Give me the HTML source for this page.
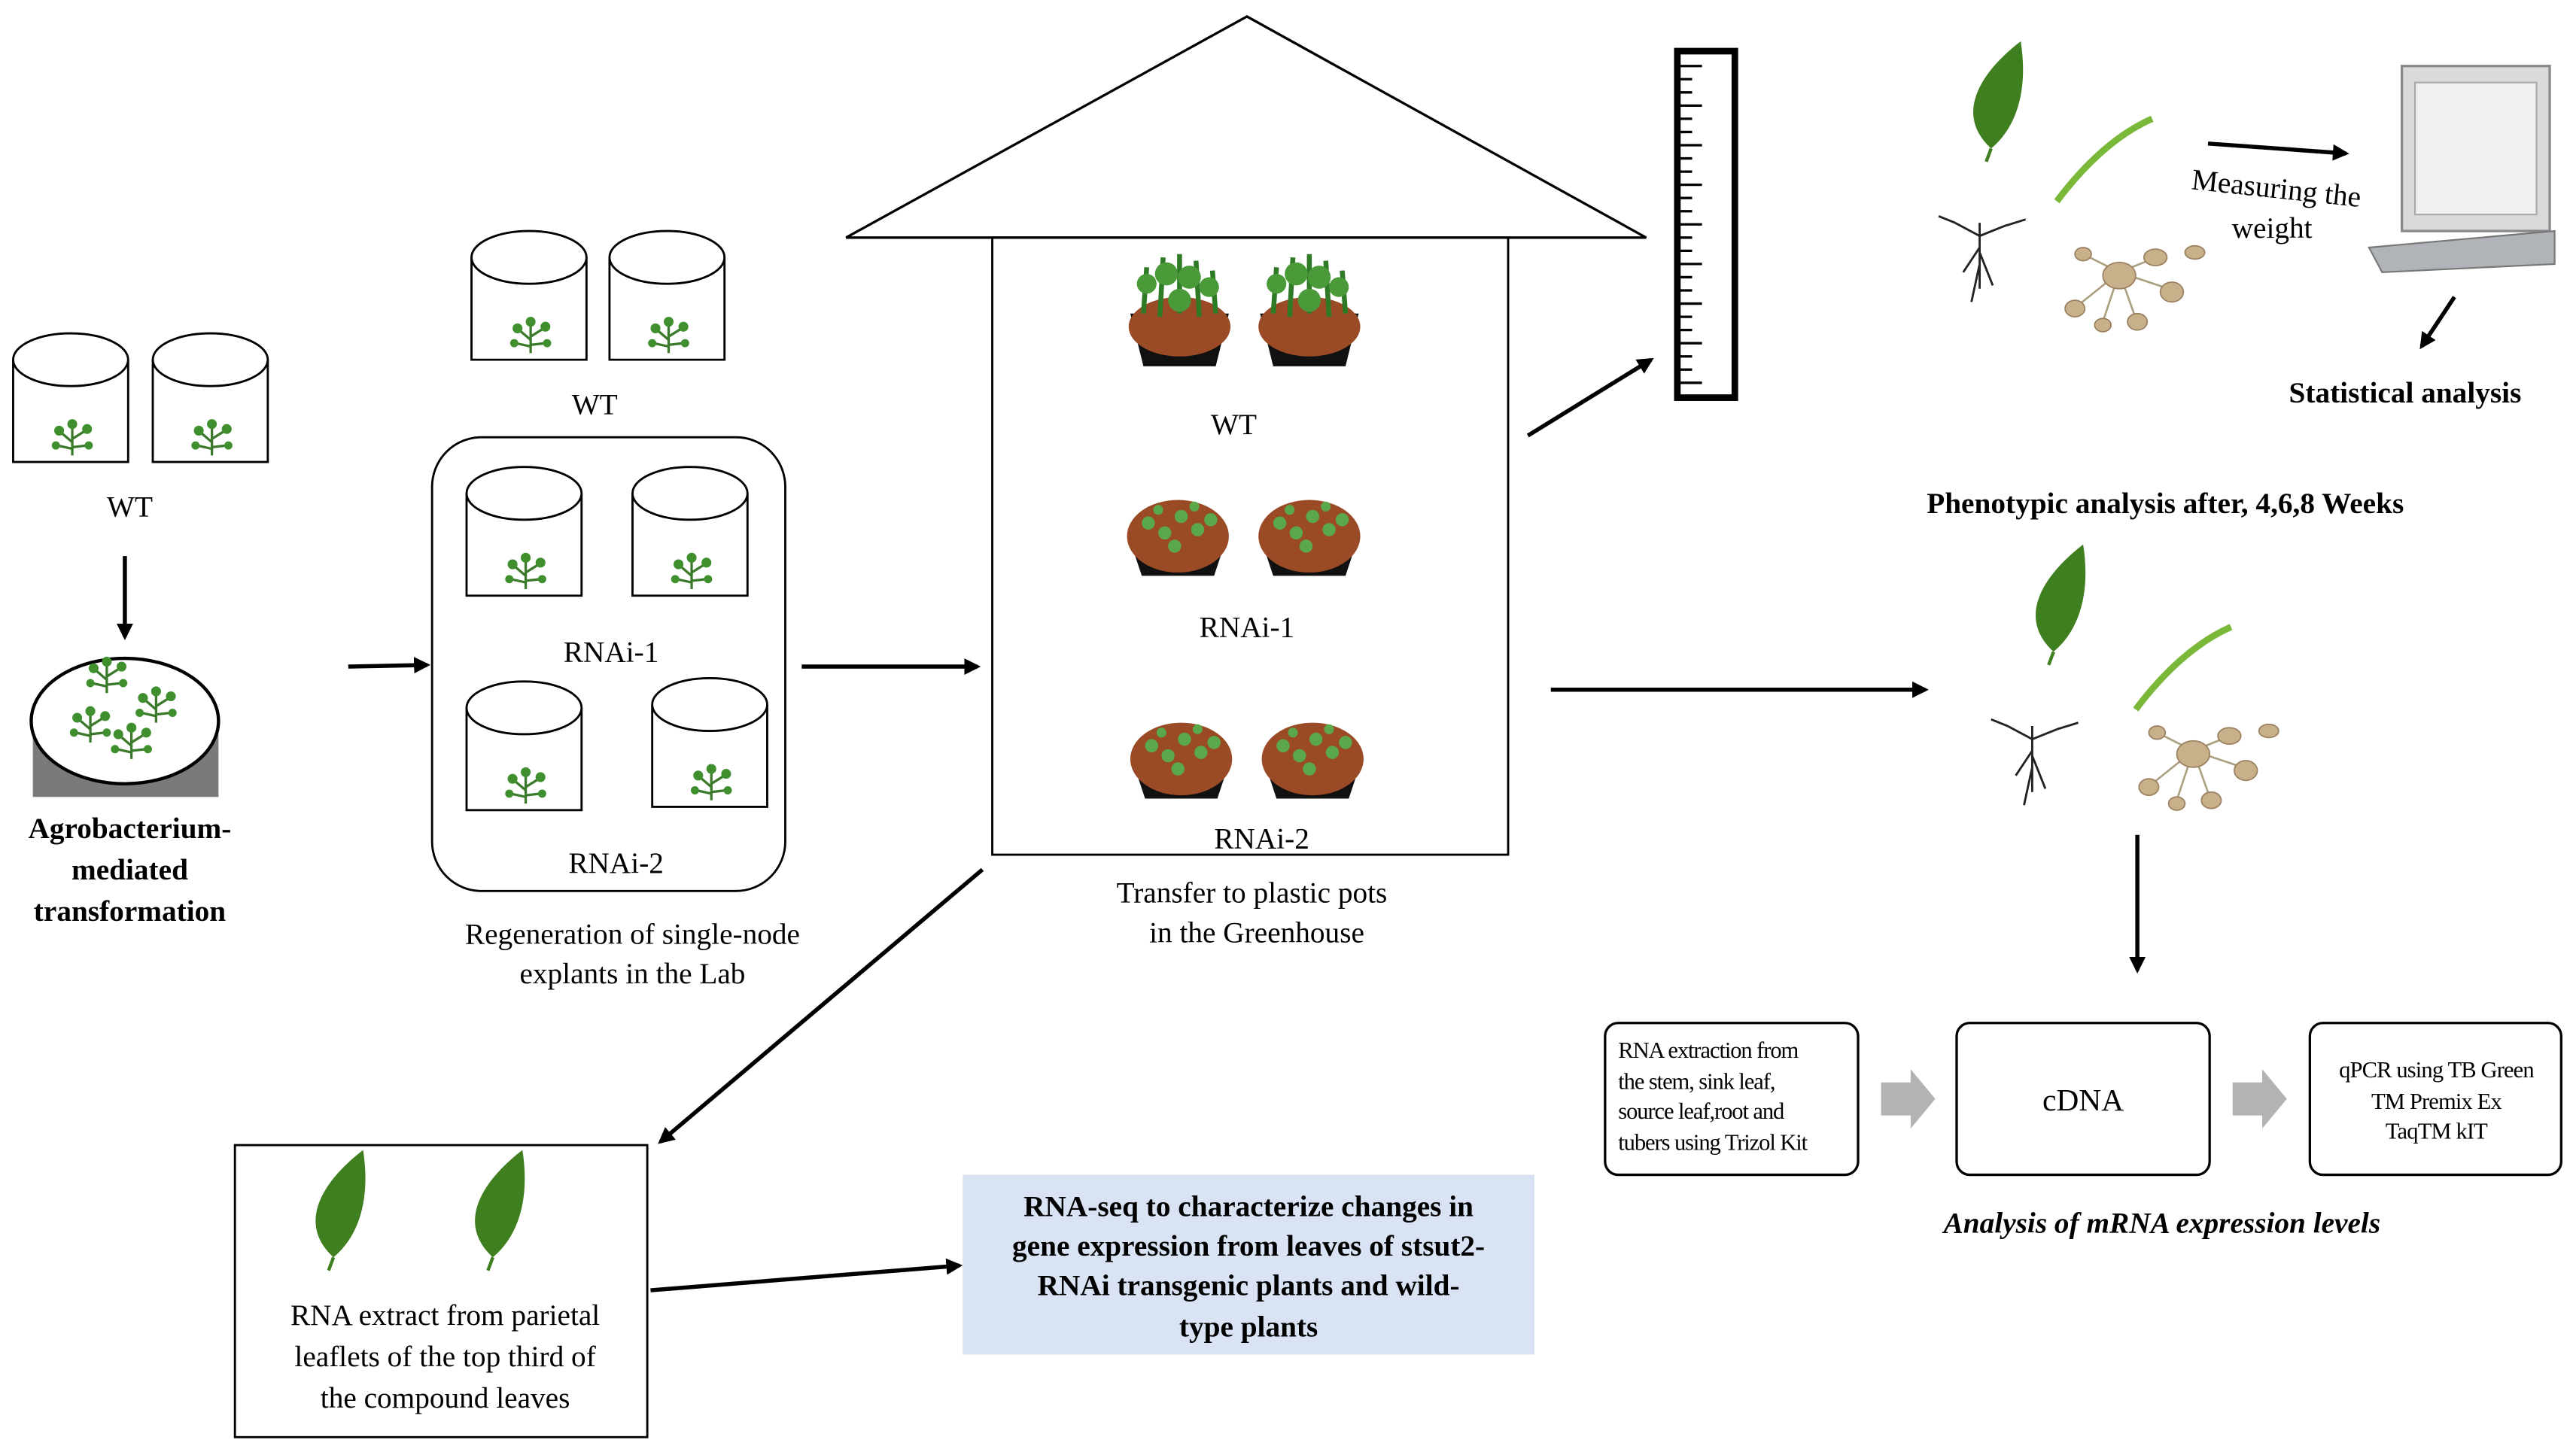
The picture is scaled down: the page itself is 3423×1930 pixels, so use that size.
<!DOCTYPE html>
<html><head><meta charset="utf-8"><style>
html,body{margin:0;padding:0;background:#fff;}
svg{display:block;}
svg text{font-family:"Liberation Serif","Times New Roman",serif !important;fill:#000;}
</style></head><body>
<svg width="3423" height="1930" viewBox="0 0 1568 880" preserveAspectRatio="none" xmlns="http://www.w3.org/2000/svg" font-family="Liberation Serif, Times New Roman, serif">
<defs>
<marker id="ah" markerWidth="10" markerHeight="10" refX="8" refY="5" orient="auto" markerUnits="userSpaceOnUse">
<path d="M0,0 L10,5 L0,10 z" fill="#000"/></marker>
<g id="plant">
<path d="M0,0 L0,-18 M0,-8 L-7,-14 M0,-10 L8,-15 M0,-4 L-9,-6 M0,-5 L9,-6" stroke="#3a7a2a" stroke-width="1.5" fill="none"/>
<circle cx="0" cy="-19" r="3" fill="#3f8f2f"/><circle cx="-8" cy="-15" r="3" fill="#3f8f2f"/><circle cx="9" cy="-16" r="3" fill="#3f8f2f"/>
<circle cx="-10" cy="-6" r="2.5" fill="#3f8f2f"/><circle cx="10" cy="-6" r="2.5" fill="#3f8f2f"/>
</g>
<g id="cup">
<path d="M0,16 L0,78 L70,78 L70,16" fill="#fff" stroke="#000" stroke-width="1.3"/>
<ellipse cx="35" cy="16" rx="35" ry="16" fill="#fff" stroke="#000" stroke-width="1.3"/>
<use href="#plant" x="36" y="74"/>
</g>
<g id="pot">
<path d="M0,0 L60,0 L52,32 L8,32 z" fill="#111"/>
<ellipse cx="30" cy="8" rx="31" ry="18" fill="#9a4a25"/>
<path d="M8,0 L10,-28 M18,2 L20,-34 M30,0 L30,-36 M42,2 L40,-32 M52,0 L50,-26" stroke="#2f7a25" stroke-width="3"/>
<circle cx="10" cy="-18" r="6" fill="#4a9a3a"/><circle cx="22" cy="-24" r="7" fill="#4a9a3a"/><circle cx="36" cy="-22" r="7" fill="#4a9a3a"/><circle cx="48" cy="-16" r="6" fill="#4a9a3a"/><circle cx="30" cy="-8" r="7" fill="#4a9a3a"/>
</g>
<g id="spot">
<path d="M0,0 L60,0 L52,24 L8,24 z" fill="#111"/>
<ellipse cx="30" cy="0" rx="31" ry="22" fill="#9a4a25"/>
<g fill="#5aa84a"><circle cx="12" cy="-8" r="4"/><circle cx="22" cy="-2" r="4"/><circle cx="32" cy="-12" r="4"/><circle cx="42" cy="-4" r="4"/><circle cx="50" cy="-10" r="4"/><circle cx="28" cy="6" r="4"/><circle cx="18" cy="-16" r="3"/><circle cx="40" cy="-18" r="3"/></g>
</g>
<g id="leaf"><path d="M0,40 C-22,20 -8,-5 18,-25 C22,0 18,25 0,40 z" fill="#3f7f1f"/><path d="M0,40 L-3,48" stroke="#3f7f1f" stroke-width="2"/></g>
<g id="tubers">
<path d="M0,0 L-25,20 M0,0 L-20,-10 M0,0 L20,-8 M0,0 L30,10 M0,0 L10,28 M0,0 L-10,30" stroke="#aaa080" stroke-width="1.2"/>
<g fill="#c8b08a" stroke="#9a8060" stroke-width="0.8">
<ellipse cx="0" cy="2" rx="10" ry="8"/><ellipse cx="-27" cy="22" rx="6" ry="5"/><ellipse cx="-22" cy="-11" rx="5" ry="4"/><ellipse cx="22" cy="-9" rx="7" ry="5"/><ellipse cx="32" cy="12" rx="7" ry="6"/><ellipse cx="11" cy="30" rx="6" ry="5"/><ellipse cx="-10" cy="32" rx="5" ry="4"/><ellipse cx="46" cy="-12" rx="6" ry="4"/></g>
</g>
<g id="roots"><path d="M0,0 L0,40 M0,8 L-15,0 M0,8 L15,2 M0,15 L-10,30 M0,18 L8,38 M-15,0 L-25,-4 M15,2 L28,-2 M0,25 L-5,48" stroke="#222" stroke-width="1.3" fill="none"/></g>
<g id="stem"><path d="M0,40 C15,20 35,0 58,-10" stroke="#7ab83a" stroke-width="4" fill="none"/></g>
</defs>

<use href="#cup" x="8" y="202"/><use href="#cup" x="93" y="202"/>
<text x="79" y="313" font-size="18" text-anchor="middle">WT</text>
<line x1="76" y1="337" x2="76" y2="386" stroke="#000" stroke-width="2.5" marker-end="url(#ah)"/>
<rect x="20" y="440" width="113" height="43" fill="#7a7a7a"/>
<ellipse cx="76" cy="437" rx="57" ry="38" fill="#fff" stroke="#000" stroke-width="2"/>
<use href="#plant" x="65" y="420"/><use href="#plant" x="95" y="438"/><use href="#plant" x="55" y="450"/><use href="#plant" x="80" y="460"/>
<text font-size="18" font-weight="bold" text-anchor="middle"><tspan x="79" y="508">Agrobacterium-</tspan><tspan x="79" y="533">mediated</tspan><tspan x="79" y="558">transformation</tspan></text>
<line x1="212" y1="404" x2="260" y2="403" stroke="#000" stroke-width="2.5" marker-end="url(#ah)"/>

<use href="#cup" x="287" y="140"/><use href="#cup" x="371" y="140"/>
<text x="362" y="251" font-size="18" text-anchor="middle">WT</text>
<rect x="263" y="265" width="215" height="275" rx="30" fill="none" stroke="#000" stroke-width="1.3"/>
<use href="#cup" x="284" y="283"/><use href="#cup" x="385" y="283"/>
<text x="372" y="401" font-size="18" text-anchor="middle">RNAi-1</text>
<use href="#cup" x="284" y="413"/><use href="#cup" x="397" y="411"/>
<text x="375" y="529" font-size="18" text-anchor="middle">RNAi-2</text>
<text font-size="18" text-anchor="middle"><tspan x="385" y="572">Regeneration of  single-node</tspan><tspan x="385" y="596">explants  in the Lab</tspan></text>
<line x1="488" y1="404" x2="595" y2="404" stroke="#000" stroke-width="2.5" marker-end="url(#ah)"/>

<polygon points="515,144 759,10 1002,144" fill="none" stroke="#000" stroke-width="1.5"/>
<rect x="604" y="144" width="314" height="374" fill="none" stroke="#000" stroke-width="1.3"/>
<use href="#pot" x="688" y="190"/><use href="#pot" x="767" y="190"/>
<text x="751" y="263" font-size="18" text-anchor="middle">WT</text>
<use href="#spot" x="687" y="325"/><use href="#spot" x="767" y="325"/>
<text x="759" y="386" font-size="18" text-anchor="middle">RNAi-1</text>
<use href="#spot" x="689" y="460"/><use href="#spot" x="769" y="460"/>
<text x="768" y="514" font-size="18" text-anchor="middle">RNAi-2</text>
<text font-size="18" text-anchor="middle"><tspan x="762" y="547">Transfer to plastic pots</tspan><tspan x="765" y="571">in the Greenhouse</tspan></text>

<rect x="1021" y="31" width="35" height="210" fill="#fff" stroke="#000" stroke-width="4"/>
<g stroke="#000" stroke-width="1.5">
<path d="M1022,40 h14 M1022,48 h8 M1022,56 h8 M1022,64 h14 M1022,72 h8 M1022,80 h8 M1022,88 h14 M1022,96 h8 M1022,104 h8 M1022,112 h14 M1022,120 h8 M1022,128 h8 M1022,136 h14 M1022,144 h8 M1022,152 h8 M1022,160 h14 M1022,168 h8 M1022,176 h8 M1022,184 h14 M1022,192 h8 M1022,200 h8 M1022,208 h14 M1022,216 h8 M1022,224 h8 M1022,232 h14"/></g>
<line x1="930" y1="264" x2="1005" y2="218" stroke="#000" stroke-width="2.5" marker-end="url(#ah)"/>

<use href="#leaf" x="1212" y="50"/>
<use href="#stem" x="1252" y="82"/>
<use href="#roots" x="1205" y="135"/>
<use href="#tubers" x="1290" y="165"/>
<line x1="1344" y1="87" x2="1428" y2="93" stroke="#000" stroke-width="2.5" marker-end="url(#ah)"/>
<text x="1385" y="120" font-size="18" text-anchor="middle" transform="rotate(6 1385 120)">Measuring the</text>
<text x="1383" y="144" font-size="18" text-anchor="middle">weight</text>
<rect x="1462" y="40" width="90" height="100" fill="#d8dadc" stroke="#888" stroke-width="1.5"/>
<rect x="1470" y="50" width="74" height="80" fill="#eef0f2" stroke="#aaa"/>
<path d="M1442,150 L1555,140 L1555,160 L1450,165 z" fill="#b0b4b8" stroke="#777"/>
<line x1="1494" y1="180" x2="1474" y2="210" stroke="#000" stroke-width="2.5" marker-end="url(#ah)"/>
<text x="1464" y="244" font-size="18" font-weight="bold" text-anchor="middle">Statistical analysis</text>
<text x="1318" y="311" font-size="18" font-weight="bold" text-anchor="middle">Phenotypic analysis after, 4,6,8 Weeks</text>

<line x1="944" y1="418" x2="1172" y2="418" stroke="#000" stroke-width="2.5" marker-end="url(#ah)"/>
<use href="#leaf" x="1250" y="355"/>
<use href="#stem" x="1300" y="390"/>
<use href="#roots" x="1237" y="440"/>
<use href="#tubers" x="1335" y="455"/>
<line x1="1301" y1="506" x2="1301" y2="588" stroke="#000" stroke-width="2.5" marker-end="url(#ah)"/>

<rect x="977" y="620" width="154" height="92" rx="8" fill="#fff" stroke="#000" stroke-width="1.5"/>
<text font-size="14" letter-spacing="-0.5"><tspan x="985" y="641">RNA extraction from</tspan><tspan x="985" y="660">the stem, sink leaf,</tspan><tspan x="985" y="678">source leaf,root and</tspan><tspan x="985" y="697">tubers using Trizol Kit</tspan></text>
<polygon points="1145,656 1163,656 1163,648 1178,666 1163,684 1163,676 1145,676" fill="#b3b3b3"/>
<rect x="1191" y="620" width="154" height="92" rx="8" fill="#fff" stroke="#000" stroke-width="1.5"/>
<text x="1268" y="673" font-size="19" text-anchor="middle">cDNA</text>
<polygon points="1359,656 1377,656 1377,648 1392,666 1377,684 1377,676 1359,676" fill="#b3b3b3"/>
<rect x="1406" y="620" width="153" height="92" rx="8" fill="#fff" stroke="#000" stroke-width="1.5"/>
<text font-size="14" text-anchor="middle" letter-spacing="-0.4"><tspan x="1483" y="653">qPCR using TB Green</tspan><tspan x="1483" y="672">TM Premix Ex</tspan><tspan x="1483" y="690">TaqTM kIT</tspan></text>
<text x="1316" y="747" font-size="18" font-style="italic" font-weight="bold" text-anchor="middle">Analysis of mRNA expression levels</text>

<line x1="598" y1="527" x2="402" y2="692" stroke="#000" stroke-width="2.5" marker-end="url(#ah)"/>
<rect x="143" y="694" width="251" height="177" fill="#fff" stroke="#000" stroke-width="1.3"/>
<use href="#leaf" x="203" y="722"/><use href="#leaf" x="300" y="722"/>
<text font-size="18" text-anchor="middle"><tspan x="271" y="803">RNA extract from parietal</tspan><tspan x="271" y="828">leaflets of the top third of</tspan><tspan x="271" y="853">the compound leaves</tspan></text>
<line x1="396" y1="782" x2="584" y2="767" stroke="#000" stroke-width="2.5" marker-end="url(#ah)"/>
<rect x="586" y="712" width="348" height="109" fill="#dae3f3"/>
<text font-size="18" font-weight="bold" text-anchor="middle"><tspan x="760" y="737">RNA-seq to characterize changes in</tspan><tspan x="760" y="761">gene expression from leaves of stsut2-</tspan><tspan x="760" y="785">RNAi transgenic plants and wild-</tspan><tspan x="760" y="810">type plants</tspan></text>
</svg>
</body></html>
